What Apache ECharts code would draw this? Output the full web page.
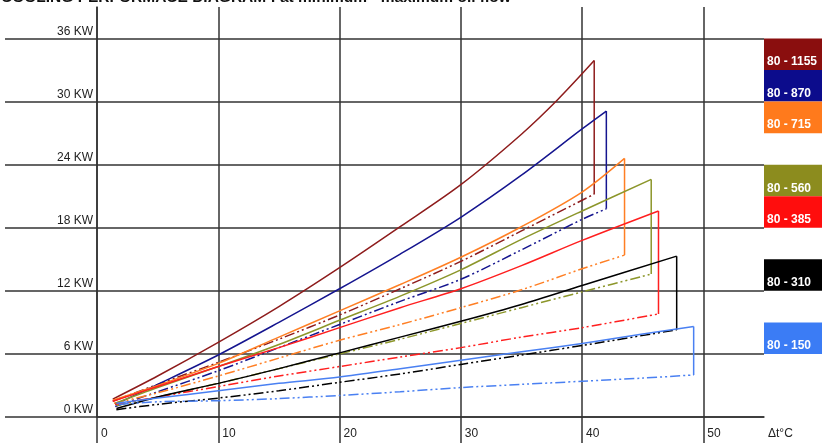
<!DOCTYPE html>
<html><head><meta charset="utf-8">
<script src="https://cdn.jsdelivr.net/npm/echarts@6/dist/echarts.min.js"></script>
<style>html,body{margin:0;padding:0;background:#fff}#c{width:822px;height:443px}</style>
</head><body><div id="c"></div>
<script>
const chartTitle = 'COOLING PERFORMACE DIAGRAM : at minimum - maximum oil flow';
const models = ['80 - 1155', '80 - 870', '80 - 715', '80 - 560', '80 - 385', '80 - 310', '80 - 150'];
const lineColors = ['#8e1c1c', '#15158f', '#ff7f24', '#8c962a', '#ff1f1f', '#000000', '#4a80f2'];
const boxColors = ['#8a0e0e', '#0c0c8c', '#ff7a1c', '#8c8c1e', '#ff0d0d', '#000000', '#3b7cf5'];
const legendBands = [[33, 36], [30, 33], [27, 30], [21, 24], [18, 21], [12, 15], [6, 9]];
const yTickValues = [0, 6, 12, 18, 24, 30, 36];
const xTickValues = [0, 10, 20, 30, 40, 50];
const xUnitLabel = 'Δt°C';

// maximum oil flow (solid) and minimum oil flow (dash-dot-dot), [Δt, KW]
const max1155 = [[1.3,1.7],[5,3.9],[10,7.1],[15,10.5],[20,14.2],[25,18.1],[30,22.1],[35,26.9],[38,30.2],[41.0,33.9]];
const min1155 = [[1.3,1.5],[5,3.1],[10,5.2],[15,7.4],[20,9.7],[25,12.2],[30,14.8],[35,17.7],[41.0,21.2]];
const max870 = [[1.5,1.2],[5,3.1],[10,5.9],[15,9.0],[20,12.2],[25,15.5],[30,19.0],[35,23.0],[40,27.4],[42.0,29.1]];
const min870 = [[1.5,1.0],[5,2.4],[10,4.4],[15,6.6],[20,8.8],[25,11.0],[30,13.1],[35,15.9],[40,18.8],[42.0,19.8]];
const max715 = [[1.3,1.6],[5,3.0],[10,5.1],[15,7.6],[20,10.1],[25,12.6],[30,15.2],[35,18.1],[40,21.4],[43.5,24.6]];
const min715 = [[1.4,1.3],[5,2.3],[10,3.9],[15,5.6],[20,7.3],[25,8.8],[30,10.4],[35,12.1],[40,14.1],[43.5,15.4]];
const max560 = [[1.5,1.3],[5,2.8],[10,4.8],[15,6.9],[20,9.2],[25,11.5],[30,14.0],[35,16.9],[40,19.6],[45.7,22.6]];
const min560 = [[1.6,1.1],[5,1.9],[10,3.2],[15,4.6],[20,6.0],[25,7.4],[30,8.9],[35,10.4],[40,11.9],[45.7,13.6]];
const max385 = [[1.3,1.5],[5,2.9],[10,4.8],[15,6.6],[20,8.5],[25,10.4],[30,12.2],[35,14.4],[40,16.8],[46.3,19.6]];
const min385 = [[1.5,1.2],[5,1.9],[10,2.9],[15,3.9],[20,4.8],[25,5.7],[30,6.6],[35,7.6],[40,8.5],[46.3,9.8]];
const max310 = [[1.6,0.8],[5,1.9],[10,3.2],[15,4.6],[20,6.1],[25,7.6],[30,9.1],[35,10.7],[40,12.5],[47.8,15.3]];
const min310 = [[1.6,0.7],[5,1.2],[10,1.8],[15,2.5],[20,3.3],[25,4.1],[30,5.0],[35,5.9],[40,6.8],[47.8,8.3]];
const max150 = [[1.6,1.3],[5,1.8],[10,2.5],[15,3.2],[20,3.8],[25,4.6],[30,5.4],[35,6.2],[40,7.0],[45,7.9],[49.2,8.6]];
const min150 = [[1.8,1.2],[5,1.45],[10,1.55],[15,1.75],[20,2.05],[25,2.4],[30,2.8],[35,3.1],[40,3.4],[45,3.7],[49.2,4.0]];

const maxCurves = [max1155, max870, max715, max560, max385, max310, max150];
const minCurves = [min1155, min870, min715, min560, min385, min310, min150];

const X_MAX = 55, Y_MAX = 39;
const gridColor = '#333333';
const font = 'Liberation Sans, Arial, sans-serif';
const dashDot = [10, 3, 2, 3, 2, 3];

const series = [];
models.forEach((name, i) => {
  const mx = maxCurves[i], mn = minCurves[i];
  const peak = mx[mx.length - 1], low = mn[mn.length - 1];
  series.push({ type: 'line', name: name + ' max', data: mx, smooth: 0.3, symbol: 'none',
    lineStyle: { color: lineColors[i], width: 1.5 }, z: 3 });
  series.push({ type: 'line', name: name + ' drop', data: [peak, [peak[0], low[1]]], symbol: 'none',
    lineStyle: { color: lineColors[i], width: 1.5 }, z: 3 });
  series.push({ type: 'line', name: name + ' min', data: mn, smooth: 0.3, symbol: 'none',
    lineStyle: { color: lineColors[i], width: 1.5, type: dashDot }, z: 3 });
});
series.push({
  type: 'custom', clip: false, silent: true, z: 5,
  data: legendBands.map((b, i) => [X_MAX, b[0], b[1], i]),
  encode: { x: 0, y: 1 },
  renderItem(params, api) {
    const i = api.value(3);
    const top = api.coord([api.value(0), api.value(2)]);
    const bot = api.coord([api.value(0), api.value(1)]);
    const w = api.getWidth() - top[0];
    return { type: 'group', children: [
      { type: 'rect', shape: { x: top[0], y: top[1], width: w, height: bot[1] - top[1] },
        style: { fill: boxColors[i] } },
      { type: 'text', style: { text: models[i], x: top[0] + 3, y: bot[1] - 2, fill: '#fff',
        font: 'bold 12px ' + font, align: 'left', verticalAlign: 'bottom' } }
    ] };
  }
});

const chart = echarts.init(document.getElementById('c'), null, { renderer: 'canvas' });
chart.setOption({
  animation: false,
  backgroundColor: '#fff',
  title: { text: chartTitle, left: 1, top: -10, padding: 0,
    textStyle: { fontSize: 15.5, fontWeight: 'bold', color: '#111', fontFamily: font } },
  grid: { left: 97, right: 58, top: 7, bottom: 26, containLabel: false },
  xAxis: {
    type: 'value', min: 0, max: X_MAX, interval: 5,
    axisLine: { show: true, lineStyle: { color: gridColor, width: 1.5 } },
    splitLine: { show: true, lineStyle: { color: gridColor, width: 1.5 } },
    axisTick: { show: true, customValues: xTickValues, length: 26, lineStyle: { color: gridColor, width: 1.5 } },
    axisLabel: { customValues: xTickValues.concat([X_MAX]), align: 'left', margin: 11, padding: [0, 0, 0, 4],
      fontSize: 12, color: '#222', fontFamily: font,
      formatter: v => v === X_MAX ? xUnitLabel : String(v) }
  },
  yAxis: {
    type: 'value', min: 0, max: Y_MAX, interval: 3,
    axisLine: { show: true, lineStyle: { color: gridColor, width: 1.5 } },
    splitLine: { show: true, lineStyle: { color: gridColor, width: 1.5 } },
    axisTick: { show: true, customValues: yTickValues, length: 92, lineStyle: { color: gridColor, width: 1.5 } },
    axisLabel: { customValues: yTickValues, margin: 4, verticalAlign: 'bottom', padding: [0, 0, 1, 0],
      fontSize: 12, color: '#222', fontFamily: font, formatter: v => v + ' KW' }
  },
  series: series
});
</script>
</body></html>
